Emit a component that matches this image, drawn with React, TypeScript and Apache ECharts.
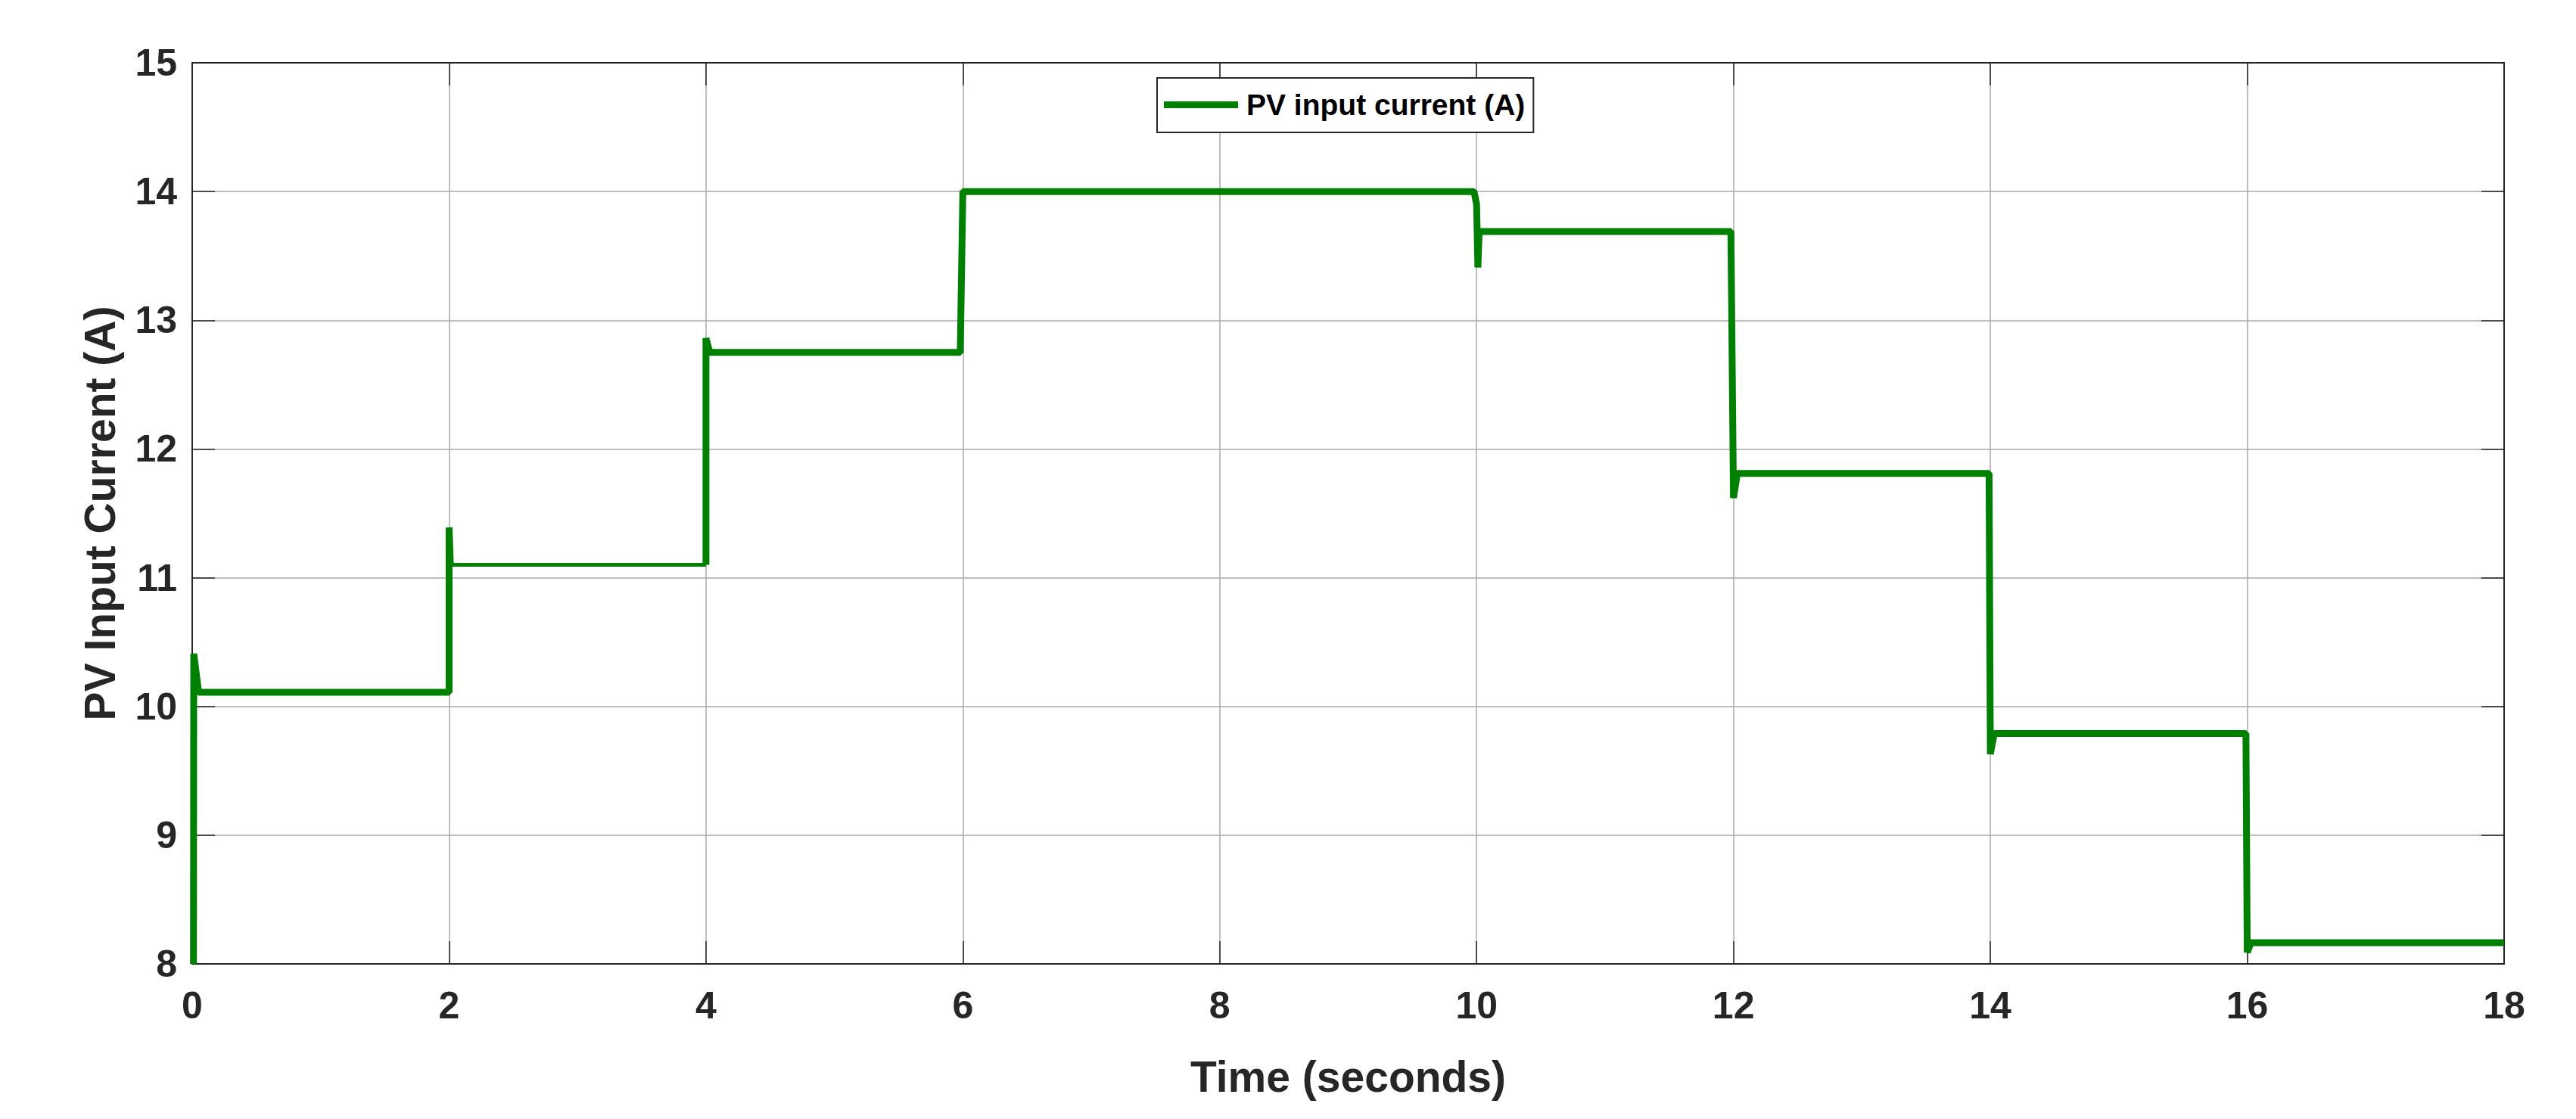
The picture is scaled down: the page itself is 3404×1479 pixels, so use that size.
import React, { useEffect, useRef } from "react";
import * as echarts from "echarts";

const SERIES_NAME = "PV input current (A)";
const X_TITLE = "Time (seconds)";
const Y_TITLE = "PV Input Current (A)";

const X_MIN = 0;
const X_MAX = 18;
const X_STEP = 2;
const Y_MIN = 8;
const Y_MAX = 15;
const Y_STEP = 1;

// first piece: start-up and 10.1 A level, step to 11.1 A
const timeA = [0.01, 0.012, 0.05, 2.0, 2.0, 2.01];
const currentA = [8.0, 10.41, 10.11, 10.11, 11.39, 11.1];

// rippling 11.1 A level (drawn thinner)
const timeRipple = [2.01, 3.99, 4.0];
const currentRipple = [11.1, 11.1, 11.1];

// remaining steps
const timeB = [4.0, 4.0, 4.03, 5.98, 6.0, 9.98, 10.0, 10.01, 10.02, 11.98, 12.0, 12.03, 13.99, 14.0, 14.03, 15.99, 16.0, 16.03, 18.0];
const currentB = [11.1, 12.86, 12.75, 12.75, 14.0, 14.0, 13.9, 13.41, 13.69, 13.69, 11.62, 11.81, 11.81, 9.63, 9.79, 9.79, 8.09, 8.165, 8.165];

const FONT = "'Liberation Sans', Arial, Helvetica, sans-serif";
const GREEN = "#008000";
const AXIS_COLOR = "#262626";

const zip = (xs: number[], ys: number[]) => xs.map((x, i) => [x, ys[i]]);

export default function App() {
  const ref = useRef<HTMLDivElement>(null);

  useEffect(() => {
    if (!ref.current) return;
    const chart = echarts.init(ref.current, null, { renderer: "svg" });

    const axisLine = { show: true, onZero: false, lineStyle: { color: AXIS_COLOR, width: 2 } };
    const axisTick = { show: true, inside: true, length: 30, lineStyle: { color: AXIS_COLOR, width: 1.5 } };
    const splitLine = { show: true, lineStyle: { color: "#a8a8a8", width: 1.5 } };
    const labelStyle = { fontSize: 50, fontWeight: "bold", color: AXIS_COLOR, fontFamily: FONT, lineHeight: 50 };
    const nameStyle = { fontSize: 57, fontWeight: "bold", color: AXIS_COLOR, fontFamily: FONT, lineHeight: 57 };

    const lineSeries = (data: number[][], width: number) => ({
      name: SERIES_NAME,
      type: "line",
      data,
      xAxisIndex: 0,
      yAxisIndex: 0,
      symbol: "none",
      showSymbol: false,
      lineStyle: { color: GREEN, width },
      itemStyle: { color: GREEN },
      emphasis: { disabled: true },
      z: 3,
    });

    chart.setOption({
      animation: false,
      backgroundColor: "#ffffff",
      grid: { left: 254, top: 83, width: 3055, height: 1191, containLabel: false },
      legend: {
        show: true,
        data: [{ name: SERIES_NAME, icon: "rect" }],
        left: 1529,
        top: 103,
        orient: "horizontal",
        itemWidth: 98,
        itemHeight: 9,
        itemGap: 0,
        padding: [13, 11, 14, 9],
        borderColor: AXIS_COLOR,
        borderWidth: 2,
        backgroundColor: "#ffffff",
        selectedMode: false,
        textStyle: { fontSize: 39, fontWeight: "bold", color: "#000000", fontFamily: FONT, lineHeight: 45, padding: [0, 0, 0, 6] },
      },
      xAxis: [
        {
          type: "value",
          position: "bottom",
          min: X_MIN,
          max: X_MAX,
          interval: X_STEP,
          axisLine,
          axisTick,
          splitLine,
          axisLabel: { ...labelStyle, margin: 30 },
          name: X_TITLE,
          nameLocation: "middle",
          nameGap: 120,
          nameTextStyle: nameStyle,
        },
        {
          type: "value",
          position: "top",
          min: X_MIN,
          max: X_MAX,
          interval: X_STEP,
          axisLine,
          axisTick,
          splitLine: { show: false },
          axisLabel: { show: false },
        },
      ],
      yAxis: [
        {
          type: "value",
          position: "left",
          min: Y_MIN,
          max: Y_MAX,
          interval: Y_STEP,
          axisLine,
          axisTick,
          splitLine,
          axisLabel: { ...labelStyle, margin: 20 },
          name: Y_TITLE,
          nameLocation: "middle",
          nameGap: 94,
          nameTextStyle: nameStyle,
        },
        {
          type: "value",
          position: "right",
          min: Y_MIN,
          max: Y_MAX,
          interval: Y_STEP,
          axisLine,
          axisTick,
          splitLine: { show: false },
          axisLabel: { show: false },
        },
      ],
      series: [
        lineSeries(zip(timeA, currentA), 9),
        lineSeries(zip(timeRipple, currentRipple), 5),
        lineSeries(zip(timeB, currentB), 9),
      ],
    });

    return () => chart.dispose();
  }, []);

  return (
    <div
      ref={ref}
      style={{ position: "fixed", left: 0, top: 0, width: 3404, height: 1479, background: "#ffffff" }}
    />
  );
}
